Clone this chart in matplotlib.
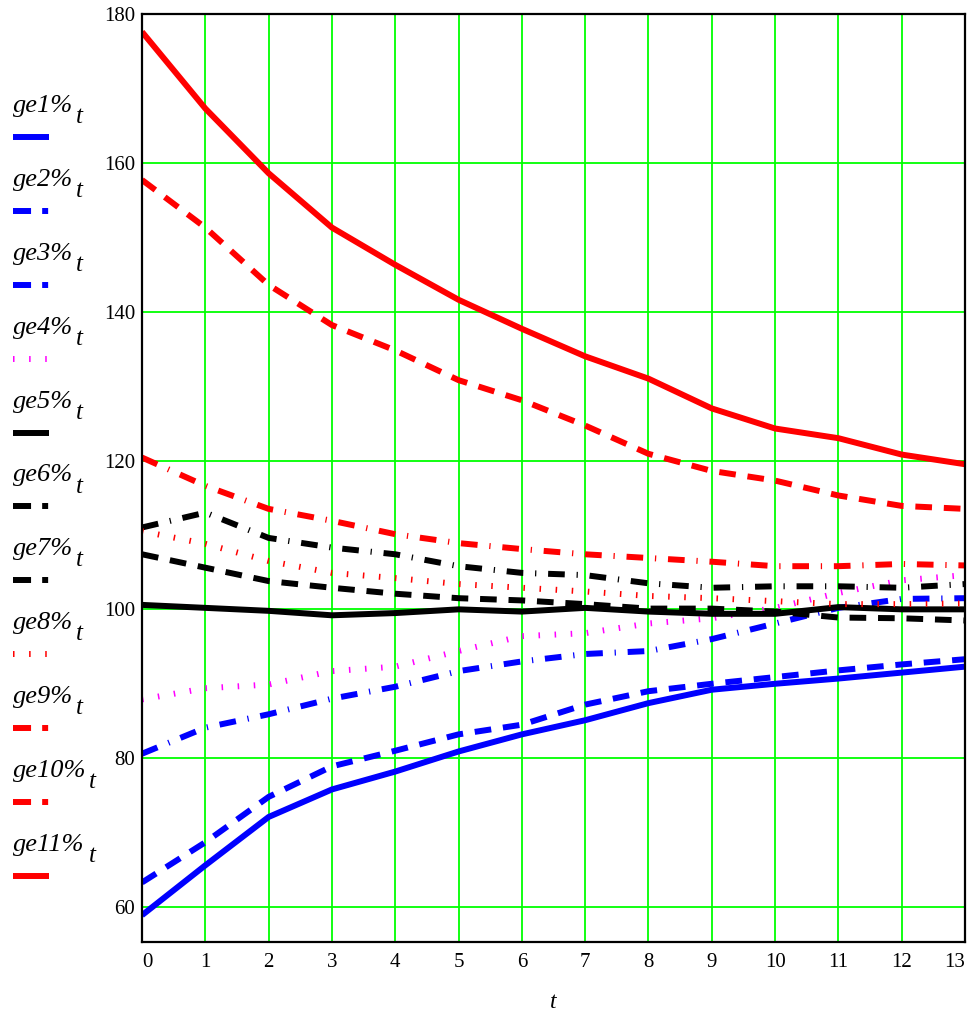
import matplotlib
matplotlib.use("Agg")
import matplotlib.pyplot as plt
import numpy as np

t = list(range(14))

ge1 = [58.9, 65.6, 72.1, 75.8, 78.2, 80.9, 83.2, 85.1, 87.4, 89.2, 90.0, 90.7, 91.5, 92.3]
ge2 = [63.3, 68.7, 74.8, 78.9, 81.0, 83.2, 84.5, 87.2, 89.0, 90.0, 90.9, 91.8, 92.6, 93.3]
ge3 = [80.6, 84.1, 85.9, 88.0, 89.6, 91.7, 93.0, 94.0, 94.4, 96.0, 98.1, 100.2, 101.4, 101.5]
ge4 = [87.9, 89.4, 89.9, 91.7, 92.3, 94.4, 96.4, 96.8, 98.1, 98.8, 100.2, 102.2, 103.9, 104.6]
ge5 = [100.6, 100.2, 99.8, 99.2, 99.5, 100.0, 99.7, 100.2, 99.7, 99.4, 99.4, 100.3, 100.0, 100.0]
ge6 = [107.4, 105.6, 103.8, 102.9, 102.1, 101.5, 101.2, 100.7, 100.1, 100.1, 99.7, 98.9, 98.8, 98.5]
ge7 = [111.0, 113.0, 109.6, 108.3, 107.4, 105.8, 104.9, 104.6, 103.5, 102.9, 103.1, 103.1, 102.9, 103.4]
ge8 = [110.5, 108.8, 106.5, 104.9, 104.2, 103.4, 102.9, 102.4, 101.8, 101.5, 101.1, 100.7, 100.7, 100.8]
ge9 = [120.4, 116.6, 113.5, 111.9, 110.1, 108.9, 108.1, 107.4, 106.9, 106.4, 105.8, 105.8, 106.1, 105.9]
ge10 = [157.7, 151.3, 143.6, 138.2, 134.8, 130.8, 128.1, 124.7, 120.9, 118.6, 117.3, 115.3, 113.9, 113.5]
ge11 = [177.6, 167.3, 158.6, 151.3, 146.3, 141.6, 137.7, 134.0, 131.0, 127.0, 124.3, 123.0, 120.8, 119.5]

names = ["ge1%", "ge2%", "ge3%", "ge4%", "ge5%", "ge6%", "ge7%", "ge8%", "ge9%", "ge10%", "ge11%"]
series = [ge1, ge2, ge3, ge4, ge5, ge6, ge7, ge8, ge9, ge10, ge11]
colors = ["#0000ff", "#0000ff", "#0000ff", "#ff00ff", "#000000", "#000000", "#000000",
          "#ff0000", "#ff0000", "#ff0000", "#ff0000"]
kinds = ["solid", "dash", "dashdot", "dot", "solid", "dash", "dashdot",
         "dot", "dashdot", "dash", "solid"]

# dash patterns in points (no scaling with linewidth)
plt.rcParams["lines.scale_dashes"] = False
STYLE = {
    "solid": "-",
    "dash": (0, (12.0, 8.5)),
    "dashdot": (0, (12.0, 8.5, 0.9, 8.5)),
    "dot": (0, (1.1, 10.5)),
}
LEG_STYLE = {
    "solid": "-",
    "dash": (0, (13.0, 8.0, 4.3, 20.0)),
    "dashdot": (0, (13.0, 8.0, 4.3, 20.0)),
    "dot": (0, (1.1, 10.5)),
}
LW = 4.3

serif = ["Liberation Serif", "DejaVu Serif"]
W, H = 971, 1013
fig = plt.figure(figsize=(W / 100, H / 100), dpi=100)
ax = fig.add_axes([142 / W, 1 - 942 / H, (965 - 142) / W, (942 - 14) / H])

for ys, c, k in zip(series, colors, kinds):
    ax.plot(t, ys, color=c, lw=LW, linestyle=STYLE[k],
            dash_capstyle="butt", solid_capstyle="butt", solid_joinstyle="miter")

ax.set_xlim(0, 13)
ax.set_ylim(55.3, 180)
ax.set_xticks(t)
ax.set_yticks([60, 80, 100, 120, 140, 160, 180])
ax.grid(True, color="#00ff00", lw=1.3)
ax.set_axisbelow(True)
ax.tick_params(length=0, labelsize=15)
ax.tick_params(axis="x", pad=8)
ax.tick_params(axis="y", pad=5)
for lab in ax.get_xticklabels() + ax.get_yticklabels():
    lab.set_family(serif)
xl = ax.get_xticklabels()
xl[0].set_horizontalalignment("left")
xl[-1].set_horizontalalignment("right")
for s in ax.spines.values():
    s.set_color("black")
    s.set_linewidth(1.6)
ax.set_xlabel("t", fontsize=17, family=serif, style="italic", labelpad=14)

# legend on the left, drawn in pixel positions
for i, (nm, c, k) in enumerate(zip(names, colors, kinds)):
    ys = 137 + i * 73.9
    fig.text(13 / W, 1 - (ys - 25) / H, nm, fontsize=19, family=serif,
             style="italic", va="baseline", ha="left")
    tx = 76 if len(nm) < 5 else 89
    fig.text(tx / W, 1 - (ys - 14) / H, "t", fontsize=18, family=serif,
             style="italic", va="baseline", ha="left")
    fig.add_artist(plt.Line2D([13 / W, 49 / W], [1 - ys / H, 1 - ys / H],
                              transform=fig.transFigure, color=c, lw=LW,
                              linestyle=LEG_STYLE[k], dash_capstyle="butt",
                              solid_capstyle="butt"))

fig.savefig("out.png", dpi=100)
